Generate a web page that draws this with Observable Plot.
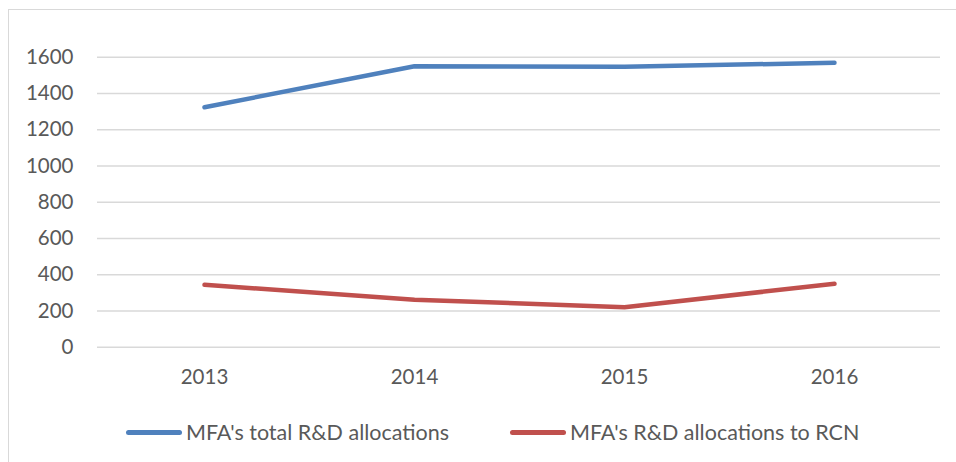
<!DOCTYPE html>
<html>
<head>
<meta charset="utf-8">
<script src="https://cdn.jsdelivr.net/npm/d3@7"></script>
<script src="https://cdn.jsdelivr.net/npm/@observablehq/plot@0.6"></script>
<style>
  html, body { margin: 0; padding: 0; background: #fff; }
  body { width: 956px; height: 462px; overflow: hidden; position: relative; font-family: Lato, "Liberation Sans", sans-serif; }
  #frame { position: absolute; left: 8px; top: 9px; width: 960px; height: 470px; border: 1.5px solid #D9D9D9; box-sizing: border-box; }
  #chart { position: absolute; left: 0; top: 0; }
  #legend { position: absolute; top: 419px; left: 0; width: 956px; height: 26px; font-size: 21.5px; color: #595959; }
  .item { position: absolute; top: 0; display: flex; align-items: center; height: 26px; white-space: nowrap; }
  .swatch { width: 56px; height: 5px; border-radius: 3px; margin-right: 4px; }
</style>
</head>
<body>
<div id="frame"></div>
<div id="chart"></div>
<div id="legend"></div>
<script>
const years = ["2013", "2014", "2015", "2016"];
const totalRD = [1324, 1550, 1548, 1569];
const rcnRD = [344, 262, 221, 350];
const seriesNames = ["MFA's total R&D allocations", "MFA's R&D allocations to RCN"];
const seriesColors = ["#4F81BD", "#C0504D"];
const yTicks = [0, 200, 400, 600, 800, 1000, 1200, 1400, 1600];

const data = [];
years.forEach((y, i) => {
  data.push({year: y, value: totalRD[i], series: seriesNames[0]});
  data.push({year: y, value: rcnRD[i], series: seriesNames[1]});
});

const chart = Plot.plot({
  width: 956,
  height: 400,
  marginLeft: 97,
  marginRight: 16,
  marginTop: 56.7,
  marginBottom: 53.3,
  style: {fontFamily: "Lato, 'Liberation Sans', sans-serif", fontSize: "20px", color: "#595959", background: "transparent"},
  x: {type: "point", domain: years, padding: 0.5, label: null},
  y: {domain: [0, 1600], label: null},
  color: {domain: seriesNames, range: seriesColors},
  marks: [
    Plot.gridY(yTicks, {stroke: "#D9D9D9", strokeOpacity: 1, strokeWidth: 1.6}),
    Plot.axisY(yTicks, {tickSize: 0, tickPadding: 24, tickFormat: d => String(d), label: null, fill: "#595959", fontSize: 20.5}),
    Plot.axisX(years, {tickSize: 0, tickPadding: 22, label: null, fill: "#595959", fontSize: 20.5}),
    Plot.line(data, {x: "year", y: "value", z: "series", stroke: "series", strokeWidth: 4.5, strokeLinecap: "round", strokeLinejoin: "round"})
  ]
});
document.getElementById("chart").appendChild(chart);

const legend = document.getElementById("legend");
const lefts = [126, 510];
seriesNames.forEach((name, i) => {
  const item = document.createElement("div");
  item.className = "item";
  item.style.left = lefts[i] + "px";
  const sw = document.createElement("div");
  sw.className = "swatch";
  sw.style.background = seriesColors[i];
  const label = document.createElement("span");
  label.textContent = name;
  item.appendChild(sw);
  item.appendChild(label);
  legend.appendChild(item);
});
</script>
</body>
</html>
